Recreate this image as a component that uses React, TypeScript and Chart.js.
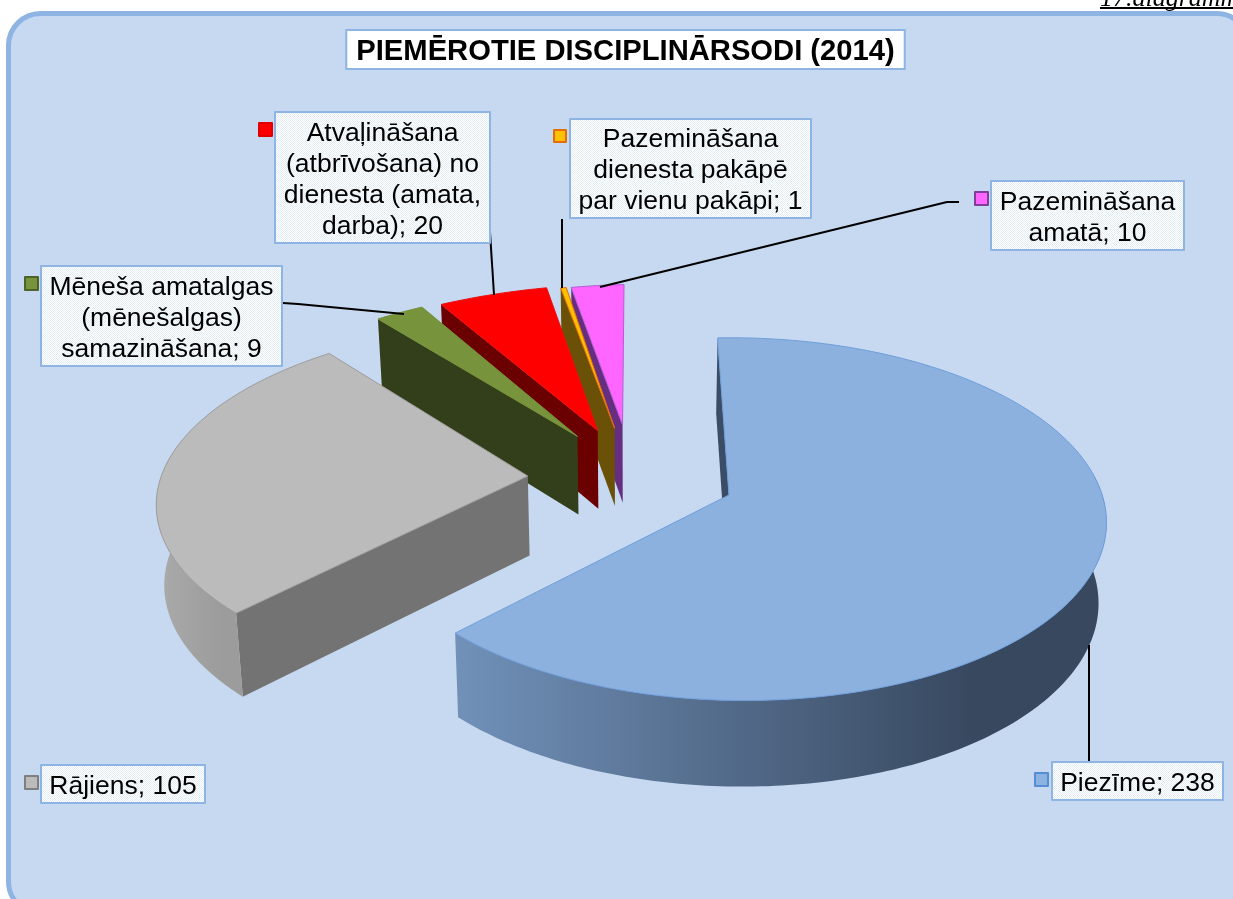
import React, { useEffect, useRef } from "react";
import { Chart, registerables } from "chart.js";

Chart.register(...registerables);

const chartTitle = "PIEMĒROTIE DISCIPLINĀRSODI (2014)";
const cornerCaption = "17.diagramma";
const categories = [
  "Piezīme",
  "Rājiens",
  "Mēneša amatalgas (mēnešalgas) samazināšana",
  "Atvaļināšana (atbrīvošana) no dienesta (amata, darba)",
  "Pazemināšana dienesta pakāpē par vienu pakāpi",
  "Pazemināšana amatā",
];
const values = [238, 105, 9, 20, 1, 10];

// wrapped label rows, the value is appended to the last row
const labelRows = [
  ["Piezīme"],
  ["Rājiens"],
  ["Mēneša amatalgas", "(mēnešalgas)", "samazināšana"],
  ["Atvaļināšana", "(atbrīvošana) no", "dienesta (amata,", "darba)"],
  ["Pazemināšana", "dienesta pakāpē", "par vienu pakāpi"],
  ["Pazemināšana", "amatā"],
];

// styles
const topColors = ["#8CB1DF", "#BBBBBB", "#77933C", "#FF0000", "#FFC000", "#FF66FF"];
const edgeColors = ["#6F9EDC", "#9C9C9C", "#77933C", "#E81010", "#E46C0A", "#B45FD0"];
const faceColors = ["#3B4C66", "#737373", "#333F1B", "#6B0000", "#6B5008", "#662E80"];
const wallFrom = ["#7191B9", "#ABABAB", "#333F1B", "#6B0000", "#6B5008", "#662E80"];
const wallTo = ["#37485F", "#9C9C9C", "#333F1B", "#6B0000", "#6B5008", "#662E80"];
const keyFill = ["#8DB3E2", "#BBBBBB", "#77933C", "#FF0000", "#FFC000", "#FF66FF"];
const keyEdge = ["#558ED5", "#7F7F7F", "#4F6228", "#E00000", "#E46C0A", "#7F3F98"];

// 3D view: explosion of each slice on the disc plane, in pie radii
const shiftX = [0, -0.55, -0.416, -0.3575, -0.308, -0.285];
const shiftY = [0, 0.11, 0.35, 0.385, 0.4, 0.42];
const scaleX = [1, 1.11, 1.15, 1.14, 1.15, 1.08];
const scaleY = [1, 1.04, 1.06, 1.04, 1.02, 1];
const leanX = [0, -0.03, 0, 0, 0, -0.018];
const apexNudgeX = [0.019, 0, 0, 0, 0, 0];
const drawOrder = [5, 4, 3, 2, 1, 0];
const view = { cx: 722, cy: 495, rx: 365, ry: 178, skew: -5, k: 0.133, j: -0.04 };
const extrude = { depth: 78, baseY: 430, growY: 0.03, vanishX: 633, shrinkX: 0.0168 };

// label boxes [left, top, right, bottom] and key squares [x, y, size]
const labelBoxes = [
  [1052, 762, 1223, 800],
  [41, 765, 205, 803],
  [41, 266, 282, 366],
  [275, 112, 490, 243],
  [570, 119, 811, 218],
  [991, 181, 1184, 250],
];
const keyBoxes = [
  [1035, 773, 13],
  [25, 776, 13],
  [25, 277, 13],
  [259, 123, 13],
  [554, 130, 12],
  [975, 192, 13],
];
const leaders = [
  [[1089, 762], [1089, 645]],
  [],
  [[283, 303], [298, 304], [404, 314]],
  [[490, 232], [494, 295]],
  [[562, 219], [562, 288]],
  [[959, 202], [947, 202], [600, 287]],
];
const sansFont = "'Liberation Sans', Arial, sans-serif";
const titleSize = 29.2;
const labelSize = 26.5;

const project = (X: number, Y: number): [number, number] => {
  const w = 1 + view.k * Y + view.j * X;
  return [view.cx + (view.rx * X + view.skew * Y) / w, view.cy - (view.ry * Y) / w];
};
const lower = (p: [number, number]): [number, number] => [
  p[0] - (p[0] - extrude.vanishX) * extrude.shrinkX,
  p[1] + extrude.depth + (p[1] - extrude.baseY) * extrude.growY,
];

const polygon = (ctx: CanvasRenderingContext2D, pts: [number, number][]) => {
  ctx.beginPath();
  pts.forEach((p, i) => (i ? ctx.lineTo(p[0], p[1]) : ctx.moveTo(p[0], p[1])));
  ctx.closePath();
};

const pie3d = {
  id: "pie3d",
  beforeDraw(chart: any) {
    const ctx: CanvasRenderingContext2D = chart.ctx;
    ctx.save();
    ctx.fillStyle = "#FFFFFF";
    ctx.fillRect(0, 0, chart.width, chart.height);
    ctx.beginPath();
    ctx.roundRect(8.5, 13.5, 1240, 900, 32);
    ctx.fillStyle = "#C6D9F1";
    ctx.fill();
    ctx.lineWidth = 5;
    ctx.strokeStyle = "#8DB4E2";
    ctx.stroke();
    // caption cut by the page edge
    ctx.fillStyle = "#000";
    ctx.font = "italic 26px 'Liberation Serif', serif";
    ctx.textBaseline = "alphabetic";
    ctx.textAlign = "left";
    ctx.fillText(cornerCaption, 1100, 6);
    ctx.fillRect(1100, 7, 133, 2);
    // title box
    ctx.font = "bold " + titleSize + "px " + sansFont;
    const tw = ctx.measureText(chartTitle).width;
    const mid = (chart.titleBlock.left + chart.titleBlock.right) / 2;
    ctx.fillStyle = "#FFFFFF";
    ctx.strokeStyle = "#8DB4E2";
    ctx.lineWidth = 2;
    ctx.fillRect(mid - tw / 2 - 10, 30, tw + 20, 39);
    ctx.strokeRect(mid - tw / 2 - 10, 30, tw + 20, 39);
    ctx.restore();
  },
  beforeDatasetsDraw(chart: any) {
    const ctx: CanvasRenderingContext2D = chart.ctx;
    const arcs = chart.getDatasetMeta(0).data;
    ctx.save();
    ctx.lineJoin = "round";
    for (const i of drawOrder) {
      const a = arcs[i];
      const rim: [number, number][] = [];
      const front: [number, number][] = [];
      const n = Math.max(4, Math.ceil((a.endAngle - a.startAngle) * 60));
      for (let s = 0; s <= n; s++) {
        const t = a.startAngle + ((a.endAngle - a.startAngle) * s) / n;
        const pt = project(
          shiftX[i] + scaleX[i] * Math.cos(t) - leanX[i] * Math.sin(t),
          shiftY[i] - scaleY[i] * Math.sin(t)
        );
        rim.push(pt);
        if (Math.sin(t) >= -0.12) front.push(pt);
      }
      const apex = project(shiftX[i] + apexNudgeX[i], shiftY[i]);
      // cut face along the starting edge
      ctx.fillStyle = faceColors[i];
      polygon(ctx, [apex, rim[0], lower(rim[0]), lower(apex)]);
      ctx.fill();
      // outer wall, only the part that looks outwards
      if (front.length > 1) {
        const xs = front.map((p) => p[0]);
        const minX = Math.min(...xs);
        const maxX = Math.max(...xs);
        const g = ctx.createLinearGradient(minX, 0, minX + (maxX - minX) * 0.8, 0);
        g.addColorStop(0, wallFrom[i]);
        g.addColorStop(1, wallTo[i]);
        ctx.fillStyle = g;
        polygon(ctx, [...front, ...front.map(lower).reverse()]);
        ctx.fill();
      }
      // top face
      polygon(ctx, [apex, ...rim]);
      ctx.fillStyle = topColors[i];
      ctx.fill();
      ctx.strokeStyle = edgeColors[i];
      ctx.lineWidth = 1;
      ctx.stroke();
    }

    // leader lines
    ctx.strokeStyle = "#000";
    ctx.lineWidth = 2;
    leaders.forEach((pts) => {
      if (!pts.length) return;
      ctx.beginPath();
      pts.forEach((p, k) => (k ? ctx.lineTo(p[0], p[1]) : ctx.moveTo(p[0], p[1])));
      ctx.stroke();
    });

    // dithered label fill
    const tile = document.createElement("canvas");
    tile.width = 2;
    tile.height = 2;
    const tc = tile.getContext("2d")!;
    tc.fillStyle = "#FFFFFF";
    tc.fillRect(0, 0, 2, 2);
    tc.fillStyle = "#E2EEF3";
    tc.fillRect(0, 0, 1, 1);
    tc.fillRect(1, 1, 1, 1);
    const pattern = ctx.createPattern(tile, "repeat")!;

    labelBoxes.forEach((b, i) => {
      ctx.fillStyle = pattern;
      ctx.fillRect(b[0], b[1], b[2] - b[0], b[3] - b[1]);
      ctx.strokeStyle = "#8DB4E2";
      ctx.lineWidth = 2;
      ctx.strokeRect(b[0], b[1], b[2] - b[0], b[3] - b[1]);
      const key = keyBoxes[i];
      ctx.fillStyle = keyFill[i];
      ctx.strokeStyle = keyEdge[i];
      ctx.fillRect(key[0], key[1], key[2], key[2]);
      ctx.strokeRect(key[0], key[1], key[2], key[2]);
      const rows = labelRows[i].slice();
      rows[rows.length - 1] += "; " + chart.data.datasets[0].data[i];
      ctx.fillStyle = "#000";
      ctx.font = labelSize + "px " + sansFont;
      ctx.textAlign = "center";
      ctx.textBaseline = "middle";
      const lh = 31;
      const midY = (b[1] + b[3]) / 2 + 2.5;
      rows.forEach((r, k) => {
        ctx.fillText(r, (b[0] + b[2]) / 2, midY + (k - (rows.length - 1) / 2) * lh);
      });
    });
    ctx.restore();
    return false;
  },
};

export default function App() {
  const ref = useRef<HTMLCanvasElement>(null);
  useEffect(() => {
    const chart = new Chart(ref.current!, {
      type: "pie",
      data: {
        labels: categories,
        datasets: [{ data: values, backgroundColor: topColors }],
      },
      options: {
        responsive: false,
        animation: false,
        layout: { padding: { left: 18 } },
        plugins: {
          legend: { display: false },
          tooltip: { enabled: false },
          title: {
            display: true,
            text: chartTitle,
            color: "#000",
            font: { size: titleSize, weight: "bold", family: sansFont },
            padding: { top: 34, bottom: 0 },
          },
        },
      },
      plugins: [pie3d],
    } as any);
    return () => chart.destroy();
  }, []);
  return (
    <canvas
      ref={ref}
      width={1233}
      height={899}
      style={{ position: "absolute", left: 0, top: 0, display: "block" }}
    />
  );
}
